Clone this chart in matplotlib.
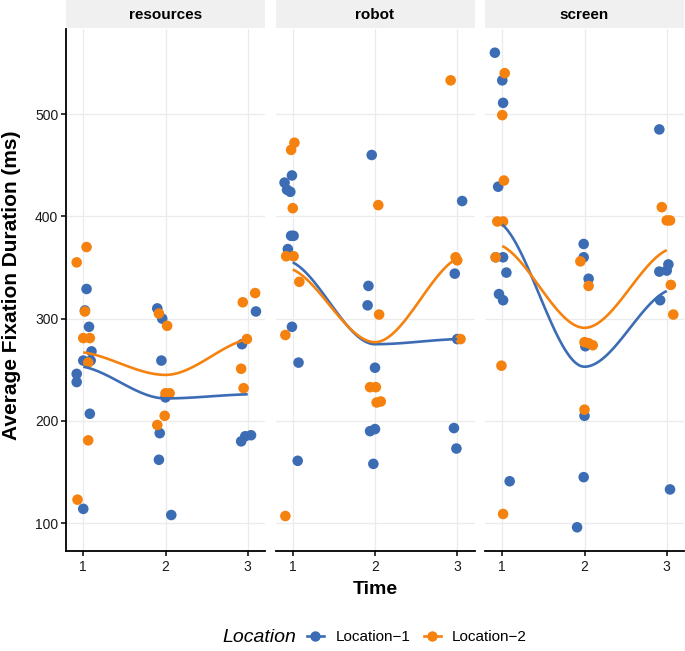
import numpy as np
import matplotlib.pyplot as plt
from matplotlib.lines import Line2D
from matplotlib.patches import Rectangle

plt.rcParams['font.family'] = ['Liberation Sans', 'DejaVu Sans']

# ---- data (jittered time, average fixation duration) ----
facets = ["resources", "robot", "screen"]
locations = ["Location\u22121", "Location\u22122"]
colors = ["#3C6DB4", "#F5820F"]

res_loc1_x = [1.04, 1.02, 1.07, 1.10, 1.09, 1.00, 0.92, 0.92, 1.08, 1.00,
              1.90, 1.96, 1.95, 2.00, 1.93, 1.92, 2.07,
              3.10, 2.93, 2.92, 2.97, 3.04]
res_loc1_y = [329, 308, 292, 268, 259, 259, 246, 238, 207, 114,
              310, 300, 259, 223, 188, 162, 108,
              307, 275, 180, 185, 186]
res_loc2_x = [0.92, 1.04, 1.02, 1.00, 1.08, 1.06, 1.06, 0.93,
              1.92, 2.02, 2.00, 2.05, 1.99, 1.90,
              2.94, 3.09, 2.99, 2.92, 2.95]
res_loc2_y = [355, 370, 307, 281, 281, 257, 181, 123,
              305, 293, 227, 227, 205, 196,
              316, 325, 280, 251, 232]

rob_loc1_x = [0.99, 0.90, 0.93, 0.97, 0.98, 1.01, 0.94, 0.99, 1.07, 1.06,
              1.96, 1.92, 1.91, 2.00, 1.94, 2.00, 1.98,
              3.06, 2.97, 3.00, 2.96, 2.99]
rob_loc1_y = [440, 433, 426, 424, 381, 381, 368, 292, 257, 161,
              460, 332, 313, 252, 190, 192, 158,
              415, 344, 280, 193, 173]
rob_loc2_x = [1.02, 0.98, 1.00, 0.92, 1.01, 1.08, 0.91, 0.91,
              2.04, 2.05, 1.94, 2.01, 2.02, 2.07,
              2.92, 2.98, 3.00, 3.04]
rob_loc2_y = [472, 465, 408, 361, 361, 336, 284, 107,
              411, 304, 233, 233, 218, 219,
              533, 360, 357, 280]

scr_loc1_x = [0.91, 1.00, 1.01, 0.95, 0.92, 1.01, 1.05, 0.96, 1.01, 1.09,
              1.99, 1.99, 2.05, 2.01, 2.00, 1.99, 1.91,
              2.91, 2.91, 3.00, 3.02, 2.92, 3.04]
scr_loc1_y = [560, 533, 511, 429, 360, 360, 345, 324, 318, 141,
              373, 360, 339, 273, 205, 145, 96,
              485, 346, 347, 353, 318, 133]
scr_loc2_x = [1.03, 1.00, 1.02, 0.94, 1.01, 0.92, 0.99, 1.01,
              1.95, 2.05, 2.00, 2.05, 2.10, 2.00,
              2.94, 3.00, 3.04, 3.05, 3.08]
scr_loc2_y = [540, 499, 435, 395, 395, 360, 254, 109,
              356, 332, 277, 276, 274, 211,
              409, 396, 396, 333, 304]

# smoothed (loess) values at each time
smooth_t = [1, 2, 3]
res_smooth = [[253, 222, 226], [267, 245, 280]]
rob_smooth = [[355, 275, 280], [348, 277, 359]]
scr_smooth = [[392, 253, 327], [371, 291, 367]]

points = {
    "resources": [(res_loc1_x, res_loc1_y), (res_loc2_x, res_loc2_y)],
    "robot": [(rob_loc1_x, rob_loc1_y), (rob_loc2_x, rob_loc2_y)],
    "screen": [(scr_loc1_x, scr_loc1_y), (scr_loc2_x, scr_loc2_y)],
}
smooths = {"resources": res_smooth, "robot": rob_smooth, "screen": scr_smooth}


def loess_curve(t, v, n=60):
    # piecewise cubic hermite, slope 0 at the middle vertex (like R's loess surface)
    slopes = [(v[1] - v[0]) / 2, 0.0, (v[2] - v[1]) / 2]
    xs, ys = [], []
    for i in range(len(t) - 1):
        h = t[i + 1] - t[i]
        s = np.linspace(0, 1, n)
        h00 = 2 * s**3 - 3 * s**2 + 1
        h10 = s**3 - 2 * s**2 + s
        h01 = -2 * s**3 + 3 * s**2
        h11 = s**3 - s**2
        ys.append(h00 * v[i] + h10 * h * slopes[i] + h01 * v[i + 1] + h11 * h * slopes[i + 1])
        xs.append(t[i] + s * h)
    return np.concatenate(xs), np.concatenate(ys)


all_x = np.concatenate([np.array(p[0]) for f in facets for p in points[f]])
all_y = np.concatenate([np.array(p[1]) for f in facets for p in points[f]])
xr = all_x.max() - all_x.min()
yr = all_y.max() - all_y.min()
xlim = (all_x.min() - 0.05 * xr, all_x.max() + 0.05 * xr)
ylim = (all_y.min() - 0.05 * yr, all_y.max() + 0.05 * yr)

W, H = 685, 651
fig = plt.figure(figsize=(W / 100, H / 100), dpi=100)

panel_left = [66, 275.5, 485]
pw = 199
top, bottom = 29, 551
strip_h = 28

for k, f in enumerate(facets):
    ax = fig.add_axes([panel_left[k] / W, 1 - bottom / H, pw / W, (bottom - top) / H])
    for j in range(2):
        xs, ys = points[f][j]
        ax.scatter(xs, ys, s=58, color=colors[j], edgecolor='none', zorder=3)
    for j in range(2):
        cx, cy = loess_curve(smooth_t, smooths[f][j])
        ax.plot(cx, cy, color=colors[j], lw=1.9, zorder=4, solid_capstyle='butt')

    ax.set_xlim(*xlim)
    ax.set_ylim(*ylim)
    ax.set_xticks([1, 2, 3])
    ax.set_yticks([100, 200, 300, 400, 500])
    ax.grid(True, color='#EBEBEB', lw=0.9)
    ax.set_axisbelow(True)
    for side in ['top', 'right']:
        ax.spines[side].set_visible(False)
    ax.spines['bottom'].set_linewidth(1.3)
    ax.tick_params(axis='x', length=3.5, width=1.1, labelsize=10, pad=3,
                   colors='black', labelcolor='#1A1A1A')
    if k == 0:
        ax.spines['left'].set_linewidth(1.3)
        ax.tick_params(axis='y', length=3.5, width=1.1, labelsize=10, pad=2,
                       labelcolor='#1A1A1A')
    else:
        ax.spines['left'].set_visible(False)
        ax.tick_params(axis='y', length=0, labelleft=False)

    # facet strip
    sax = fig.add_axes([panel_left[k] / W, 1 - strip_h / H, pw / W, strip_h / H])
    sax.add_patch(Rectangle((0, 0), 1, 1, color='#F0F0F0', transform=sax.transAxes))
    sax.set_axis_off()
    sax.text(0.5, 0.45, f, ha='center', va='center', fontsize=11, fontweight='bold')

fig.text(12 / W, 1 - 285 / H, "Average Fixation Duration (ms)", rotation=90,
         ha='center', va='center', fontsize=15, fontweight='bold')
fig.text(375 / W, 1 - 590 / H, "Time", ha='center', va='center', fontsize=14, fontweight='bold')

fig.text(222 / W, 1 - 637 / H, "Location", ha='left', va='center', fontsize=14, style='italic')
handles = [Line2D([0], [0], color=c, lw=1.9, marker='o', markersize=7.5, markeredgewidth=0)
           for c in colors]
fig.legend(handles, locations, loc='center left', bbox_to_anchor=(307 / W, 1 - 637 / H),
           ncol=2, frameon=False, fontsize=11, handlelength=1.1, handletextpad=0.75,
           columnspacing=0.9, borderaxespad=0, borderpad=0)

fig.savefig("out.png", dpi=100)
